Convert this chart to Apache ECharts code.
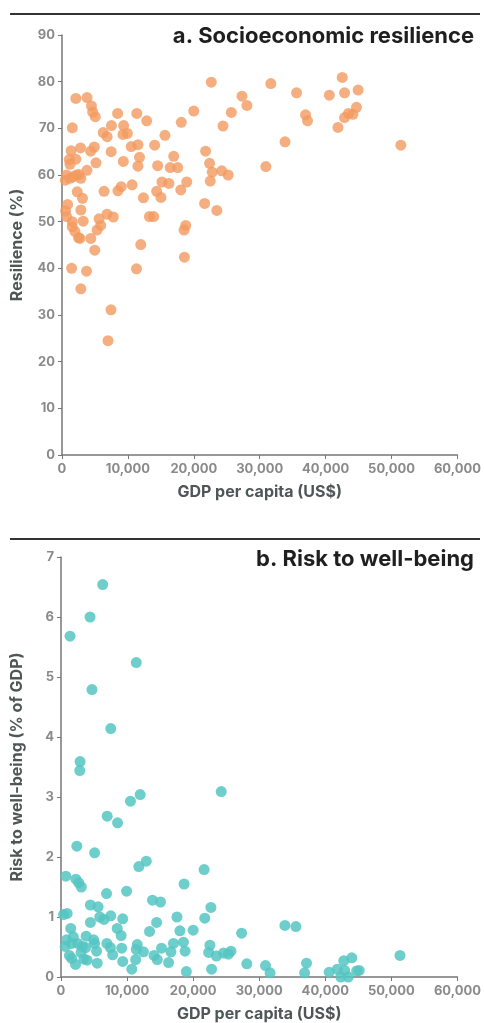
<!DOCTYPE html>
<html>
<head>
<meta charset="utf-8">
<script src="https://cdn.jsdelivr.net/npm/echarts@6/dist/echarts.min.js"></script>
<style>
html,body{margin:0;padding:0;background:#fff;}
#c{width:484px;height:1023px;}
</style>
</head>
<body>
<div id="c"></div>
<script>
// Panel a: Socioeconomic resilience (%) vs GDP per capita (US$)
const resilienceGDP = [2100,3800,4470,4650,5050,1560,8440,11350,12850,6250,6850,7500,9350,9250,9920,1380,2810,4350,4900,10500,11520,7460,1100,2100,1210,5150,3790,9300,11520,11760,14060,15620,18100,19990,22650,24430,25690,27310,28060,31680,35590,33840,30930,36950,37250,40560,42520,42870,44930,41870,42870,43470,44130,44680,51410,21790,22390,22790,22490,24230,25210,21640,23490,14510,16420,17560,16950,15160,16220,18930,18020,14360,15010,12350,13260,13910,10640,8990,8480,6380,6830,7780,5620,5870,5320,18770,18520,700,1710,2860,2560,2310,3110,2860,3210,850,550,700,1560,1560,1960,2510,2710,4370,500,4970,11950,1460,3720,11300,18570,2860,7430,6980,1200,2200];
const resilienceVal = [76.4,76.6,74.8,73.5,72.5,70.1,73.2,73.2,71.6,69.1,68.2,70.6,70.6,68.7,68.9,65.2,65.8,65.1,66.0,66.1,66.5,65.0,63.3,63.4,62.3,62.6,61.0,62.9,61.9,63.8,66.4,68.5,71.3,73.7,79.9,70.5,73.4,76.9,74.9,79.6,77.6,67.1,61.8,72.9,71.6,77.1,80.9,77.6,78.2,70.2,72.3,73.2,73.0,74.5,66.4,65.1,62.5,60.6,58.7,60.9,60.0,53.9,52.4,62.0,61.6,61.6,64.0,58.5,58.2,58.5,56.8,56.5,55.2,55.1,51.1,51.1,57.9,57.5,56.6,56.5,51.6,51.0,50.6,49.2,48.2,49.2,48.2,60.0,59.6,59.3,60.1,56.4,55.0,52.5,50.1,53.7,52.3,51.1,50.0,48.9,47.9,46.6,46.4,46.4,58.9,43.9,45.1,40.0,39.4,39.9,42.4,35.6,31.1,24.5,59.3,60.0];

// Panel b: Risk to well-being (% of GDP) vs GDP per capita (US$)
const riskGDP = [6310,4400,1370,11390,4690,7530,2890,2840,24250,11980,10510,6990,8560,2400,5090,12910,11780,21660,730,2250,2690,3080,18630,9930,6890,13840,15060,4450,5620,22690,390,930,5870,6500,7530,9340,17550,21760,4450,14470,33890,35550,1470,8510,17990,20000,13400,27330,9100,3810,4940,830,1860,1610,2540,6940,11540,5090,17020,18530,22540,640,3230,3720,7480,9190,15210,11390,12470,18780,16630,22350,24600,25330,25720,23520,51300,5380,3030,1270,1610,14080,14570,7820,3470,3960,11300,9340,5480,16280,2200,28120,37160,44010,42790,30950,10710,22790,18970,31640,36870,40590,41810,42930,44740,45130,42350,43470];
const riskVal = [6.54,6.0,5.68,5.24,4.79,4.14,3.59,3.44,3.09,3.04,2.93,2.68,2.57,2.18,2.07,1.93,1.84,1.79,1.68,1.63,1.57,1.50,1.55,1.43,1.39,1.28,1.25,1.20,1.17,1.16,1.04,1.06,1.00,0.96,1.02,0.97,1.00,0.98,0.91,0.91,0.86,0.84,0.81,0.81,0.77,0.78,0.76,0.73,0.69,0.68,0.62,0.62,0.67,0.56,0.56,0.56,0.54,0.56,0.56,0.58,0.53,0.51,0.51,0.49,0.49,0.48,0.48,0.46,0.42,0.43,0.42,0.41,0.40,0.38,0.43,0.35,0.36,0.43,0.41,0.36,0.31,0.36,0.29,0.37,0.30,0.28,0.29,0.26,0.23,0.24,0.21,0.22,0.23,0.32,0.27,0.19,0.13,0.13,0.09,0.07,0.07,0.08,0.13,0.11,0.10,0.11,0.0,0.0];

const xTicks = [0,10000,20000,30000,40000,50000,60000];

const FONT = 'Inter, "Noto Sans", sans-serif';
const tickGray = '#8a8a8a';
const nameGray = '#4f5656';

function pairs(xs, ys){ return xs.map((x,i)=>[x, ys[i]]); }

function xAxis(gridIndex){
  return {
    type:'value', gridIndex, min:xTicks[0], max:xTicks[xTicks.length-1], interval:10000,
    name:'GDP per capita (US$)', nameLocation:'middle', nameGap:29,
    nameTextStyle:{color:nameGray, fontSize:16, fontWeight:'bold', fontFamily:FONT},
    axisLine:{show:true, lineStyle:{color:'#777', width:1.5}},
    axisTick:{show:true, length:4, lineStyle:{color:'#777'}},
    axisLabel:{color:tickGray, fontSize:13, fontWeight:'bold', fontFamily:FONT, margin:8,
      formatter:v=>v.toLocaleString('en-US')},
    splitLine:{show:false}
  };
}
function yAxis(gridIndex, name, max, interval, gap){
  return {
    type:'value', gridIndex, min:0, max, interval,
    name, nameLocation:'middle', nameGap:gap, nameRotate:90,
    nameTextStyle:{color:nameGray, fontSize:16, fontWeight:'bold', fontFamily:FONT},
    axisLine:{show:true, lineStyle:{color:'#777', width:1.5}},
    axisTick:{show:true, length:4, lineStyle:{color:'#777'}},
    axisLabel:{color:tickGray, fontSize:13, fontWeight:'bold', fontFamily:FONT, margin:7},
    splitLine:{show:false}
  };
}

const chart = echarts.init(document.getElementById('c'), null, {renderer:'canvas'});
chart.setOption({
  animation:false,
  backgroundColor:'#fff',
  title:[
    {text:'a. Socioeconomic resilience', right:5, top:20,
     textStyle:{color:'#1f1f1f', fontSize:22, fontWeight:'bold', fontFamily:FONT}},
    {text:'b. Risk to well-being', right:5, top:543,
     textStyle:{color:'#1f1f1f', fontSize:22, fontWeight:'bold', fontFamily:FONT}}
  ],
  graphic:[
    {type:'line', shape:{x1:10,y1:14,x2:480,y2:14}, style:{stroke:'#333',lineWidth:2}},
    {type:'line', shape:{x1:10,y1:539,x2:480,y2:539}, style:{stroke:'#333',lineWidth:2}}
  ],
  grid:[
    {left:62, right:24, top:35, height:420},
    {left:61, right:14, top:557, height:420}
  ],
  xAxis:[xAxis(0), xAxis(1)],
  yAxis:[
    yAxis(0,'Resilience (%)',90,10,37),
    yAxis(1,'Risk to well-being (% of GDP)',7,1,36)
  ],
  series:[
    {type:'scatter', xAxisIndex:0, yAxisIndex:0, data:pairs(resilienceGDP,resilienceVal),
     symbolSize:11, itemStyle:{color:'#F39A5F', opacity:0.8}},
    {type:'scatter', xAxisIndex:1, yAxisIndex:1, data:pairs(riskGDP,riskVal),
     symbolSize:11, itemStyle:{color:'#55C6C2', opacity:0.85}}
  ]
});
</script>
</body>
</html>
